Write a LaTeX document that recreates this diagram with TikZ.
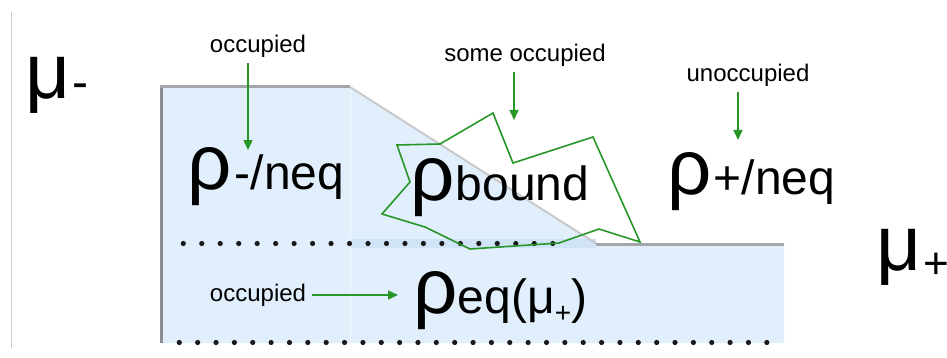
\documentclass[tikz,border=0pt]{standalone}
\usepackage{fontspec}
\setmainfont{Liberation Sans}
\usetikzlibrary{arrows.meta}

\definecolor{regionblue}{RGB}{225,238,251}
\definecolor{bandblue}{RGB}{208,227,247}
\definecolor{arrowgreen}{RGB}{40,150,40}
\definecolor{rimdark}{RGB}{138,141,146}
\definecolor{rimmid}{RGB}{163,167,172}
\definecolor{rimlight}{RGB}{200,201,203}

\newcommand{\greekbig}[1]{{\fontsize{39}{40}\selectfont #1}}
\newcommand{\mubig}[1]{{\fontsize{39}{40}\selectfont #1}}
\newcommand{\subpart}[1]{{\fontsize{24}{25}\selectfont #1}}

\begin{document}
\begin{tikzpicture}[x=0.5pt,y=-0.5pt,
  lbl/.style={font=\fontsize{12}{14}\selectfont, inner sep=0pt, outer sep=3pt},
  dens/.style={anchor=base west, inner sep=0pt},
  arr/.style={draw=arrowgreen, line width=0.75pt, -{Triangle[length=5pt,width=4.5pt]}},
  rim/.style={line width=1.5pt},
  blip/.style={fill=black!90}
]
\useasboundingbox (0,0) rectangle (947,358);
\draw[black!20, line width=0.5pt] (11,12) -- (11,348);

\fill[regionblue] (161,87) -- (350,87) -- (596,243) -- (784,243) -- (784,343) -- (161,343) -- cycle;
\fill[bandblue] (350,239) rectangle (596,248);
\draw[white, line width=0.5pt, opacity=0.6] (350,88) -- (350,343);
\draw[rim, rimdark] (161,87) -- (161,343);
\draw[rim, rimmid] (160.25,87) -- (350,87);
\draw[rimlight, line width=1pt] (350,87) -- (596,243.5);
\draw[rim, rimmid] (596,244) -- (784,244);

\foreach \k in {0,...,20} \fill[blip] (183.3+18.47*\k,243.5) circle (1.3pt);
\foreach \k in {0,...,32} \fill[blip] (179.3+18.36*\k,342.5) circle (1.3pt);

\draw[arrowgreen, line width=0.8pt, line join=miter] (397,145) -- (440,144) -- (493,113) -- (513,163) -- (593,137) -- (640,242) -- (599,229) -- (559,243) -- (470,249) -- (425,227) -- (382,214) -- (410,182) -- cycle;

\node[dens] (muminus) at (25,98) {\mubig{μ}\hspace{1pt}{\fontsize{24}{24}\selectfont -}};
\node[dens] (muplus) at (876,270) {\mubig{μ}\hspace{1pt}\raisebox{-4pt}{\fontsize{22}{22}\selectfont +}};

\node[dens] (rhominus) at (187,189) {\greekbig{ρ}\hspace{1.5pt}\subpart{-/neq}};
\node[dens] (rhobound) at (410,200) {\greekbig{ρ}\hspace{0.5pt}\subpart{bound}};
\node[dens] (rhoplus) at (667,194) {\greekbig{ρ}\hspace{1pt}\subpart{+/neq}};
\node[dens] (rhoeq) at (413,313) {\greekbig{ρ}\subpart{eq(μ\raisebox{-4.5pt}{\fontsize{14}{14}\selectfont +})}};

\node[lbl] (occtop) at (258,46) {occupied};
\node[lbl] (occsome) at (525,55) {some occupied};
\node[lbl] (unocc) at (748,75) {unoccupied};
\node[lbl] (occlow) at (258,295) {occupied};

\coordinate (tiptop) at (248,150);
\coordinate (tipsome) at (514,120);
\coordinate (tipunocc) at (738,140);
\coordinate (tiplow) at (398,295);

\draw[arr] (occtop.south -| tiptop) -- (tiptop);
\draw[arr] (occsome.south -| tipsome) -- (tipsome);
\draw[arr] (unocc.south -| tipunocc) -- (tipunocc);
\draw[arr] (occlow.east) -- (tiplow);
\end{tikzpicture}
\end{document}
